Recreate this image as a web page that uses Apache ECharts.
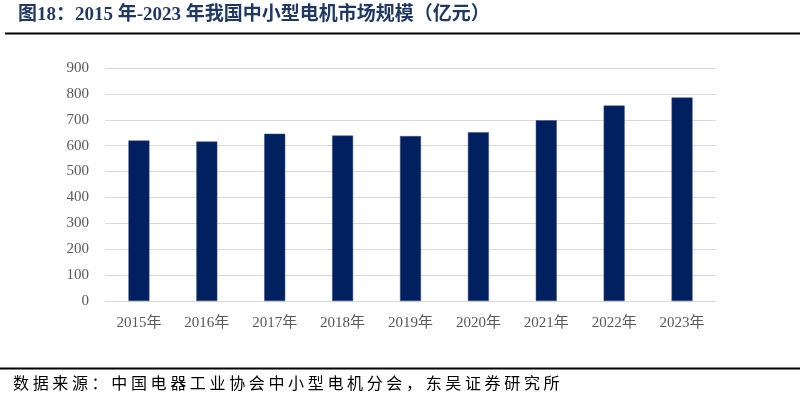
<!DOCTYPE html>
<html><head><meta charset="utf-8">
<script src="https://cdn.jsdelivr.net/npm/echarts@6/dist/echarts.min.js"></script>
<style>html,body{margin:0;padding:0;background:#fff}#c{width:805px;height:402px}</style>
</head><body><div id="c"></div>
<script>
var categories = ['2015年','2016年','2017年','2018年','2019年','2020年','2021年','2022年','2023年'];
var values = [620, 616, 646, 639, 637, 652, 698, 755, 786];
var yTicks = [0, 100, 200, 300, 400, 500, 600, 700, 800, 900];
var titleText = '图18：2015 年-2023 年我国中小型电机市场规模（亿元）';
var sourceText = '数据来源：中国电器工业协会中小型电机分会，东吴证券研究所';

var serif = '"Liberation Serif","Times New Roman","Noto Sans CJK SC",serif';
var chart = echarts.init(document.getElementById('c'));
var graphics = [
  {type:'text', left:18, top:6, style:{text:titleText, fill:'#1f3864', font:'bold 19px ' + serif}},
  {type:'rect', shape:{x:5, y:32.5, width:795, height:2}, style:{fill:'#000'}},
  {type:'rect', shape:{x:0, y:367.5, width:800, height:2}, style:{fill:'#000'}}
];
var chars = Array.from(sourceText);
chars.forEach(function(ch, i){
  graphics.push({type:'text', x:13 + i*19.65, y:375, style:{text:ch, fill:'#000', font:'16px "Noto Sans CJK SC",serif'}});
});
chart.setOption({
  animation:false,
  grid:{left:105, right:89, top:68, bottom:101},
  xAxis:{type:'category', data:categories,
    axisLine:{lineStyle:{color:'#d9d9d9', width:1}}, axisTick:{show:false},
    axisLabel:{color:'#595959', fontSize:15, fontFamily:serif, margin:15}},
  yAxis:{type:'value', min:yTicks[0], max:yTicks[yTicks.length-1], interval:100,
    axisLine:{show:false}, axisTick:{show:false},
    splitLine:{lineStyle:{color:'#d9d9d9', width:1}},
    axisLabel:{color:'#595959', fontSize:15, fontFamily:serif, margin:16}},
  series:[{type:'bar', data:values, barWidth:21,
    itemStyle:{color:'#002060', borderColor:'#3a4f86', borderWidth:0.5}}],
  graphic:graphics
});
</script></body></html>
